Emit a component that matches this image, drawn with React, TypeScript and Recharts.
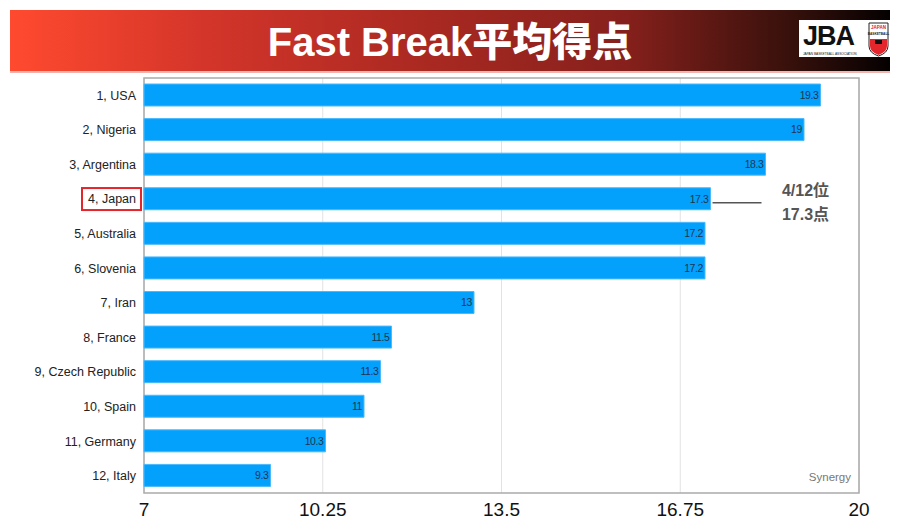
import React from 'react';
import { BarChart, Bar, XAxis, YAxis, CartesianGrid, ReferenceArea, LabelList } from 'recharts';

const categories = ['1, USA', '2, Nigeria', '3, Argentina', '4, Japan', '5, Australia', '6, Slovenia', '7, Iran', '8, France', '9, Czech Republic', '10, Spain', '11, Germany', '12, Italy'];
const values = [19.3, 19, 18.3, 17.3, 17.2, 17.2, 13, 11.5, 11.3, 11, 10.3, 9.3];
const xTicks = [7, 10.25, 13.5, 16.75, 20];
const highlight = '4, Japan';
const annotationLines = ['4/12位', '17.3点'];
const title = 'Fast Break平均得点';
const source = 'Synergy';

const data = categories.map((name, i) => ({ name, value: values[i] }));

const LABEL_FONT = '"Liberation Sans", Arial, sans-serif';

const YTick = (props: any) => {
  const { x, y, payload } = props;
  const isHi = payload.value === highlight;
  return (
    <g>
      {isHi && (
        <rect x={x - 54} y={y - 11} width={59} height={22} fill="none" stroke="#e3262b" strokeWidth={2} />
      )}
      <text x={x} y={y} dy="0.35em" textAnchor="end" fontSize={12.5} fill="#222" fontFamily={LABEL_FONT}>
        {payload.value}
      </text>
    </g>
  );
};

const ValueLabel = (props: any) => {
  const { x, y, width, height, value, index } = props;
  const endX = x + width;
  const cy = y + height / 2;
  const isHi = categories[index] === highlight;
  return (
    <g>
      <text x={endX - 2} y={cy} dy="0.36em" textAnchor="end" fontSize={10.5} fill="#1d3550" fontFamily={LABEL_FONT} letterSpacing={-0.4}>
        {value}
      </text>
      {isHi && (
        <g>
          <line x1={endX + 2} x2={endX + 51} y1={cy + 4} y2={cy + 4} stroke="#555" strokeWidth={1.5} />
          <text x={endX + 95} y={cy - 3} textAnchor="middle" fontSize={16} fontWeight={700} fill="#555" fontFamily='"Liberation Sans", "Noto Sans CJK JP", sans-serif'>
            {annotationLines[0]}
          </text>
          <text x={endX + 95} y={cy + 21} textAnchor="middle" fontSize={16} fontWeight={700} fill="#555" fontFamily='"Liberation Sans", "Noto Sans CJK JP", sans-serif'>
            {annotationLines[1]}
          </text>
        </g>
      )}
    </g>
  );
};

const Logo = () => (
  <svg width={91} height={37} style={{ position: 'absolute', left: 799, top: 20 }}>
    <rect x={0} y={0} width={91} height={37} fill="#fff" />
    <text x={4} y={25} fontSize={27} fontWeight={900} fill="#111" fontFamily='"Liberation Sans", Arial, sans-serif' letterSpacing={-1}>JBA</text>
    <text x={4} y={34.5} fontSize={3.2} fill="#111" fontFamily='"Liberation Sans", Arial, sans-serif'>JAPAN BASKETBALL ASSOCIATION</text>
    <path d="M70 3 H89 V26 Q89 33 79.5 36 Q70 33 70 26 Z" fill="#fff" stroke="#222" strokeWidth={1} />
    <text x={79.5} y={9} fontSize={4.5} fontWeight={700} textAnchor="middle" fill="#d8232a" fontFamily='"Liberation Sans", Arial, sans-serif'>JAPAN</text>
    <text x={79.5} y={14.5} fontSize={3.2} fontWeight={700} textAnchor="middle" fill="#222" fontFamily='"Liberation Sans", Arial, sans-serif'>BASKETBALL</text>
    <path d="M71 19 H88 V26 Q88 32 79.5 35 Q71 32 71 26 Z" fill="#e3262b" />
    <rect x={76} y={20} width={7} height={4} fill="#111" />
  </svg>
);

export default function App() {
  return (
    <div style={{ position: 'absolute', left: 0, top: 0, width: 897, height: 519, background: '#fff', overflow: 'hidden' }}>
      <div
        style={{
          position: 'absolute',
          left: 10,
          top: 10,
          width: 880,
          height: 61,
          background: 'linear-gradient(90deg, #ff4a2f 0%, #d4352a 22%, #ad2a22 45%, #86201c 70%, #3a110c 88%, #050101 100%)',
        }}
      />
      <div style={{ position: 'absolute', left: 10, top: 71, width: 880, height: 2, background: '#f1b4ae' }} />
      <div
        style={{
          position: 'absolute',
          left: 0,
          top: 12,
          width: 900,
          textAlign: 'center',
          color: '#fff',
          fontSize: 40,
          fontWeight: 700,
          fontFamily: '"Liberation Sans", "Noto Sans CJK JP", sans-serif',
          lineHeight: '54px',
          letterSpacing: 0,
        }}
      >
        <span style={{ fontFamily: '"Liberation Sans", Arial, sans-serif', fontWeight: 700 }}>Fast Break</span>
        <span style={{ fontFamily: '"Noto Sans CJK JP", sans-serif', fontWeight: 900 }}>平均得点</span>
      </div>
      <Logo />
      <div style={{ position: 'absolute', left: 0, top: 0 }}>
        <BarChart
          width={897}
          height={519}
          data={data}
          layout="vertical"
          margin={{ top: 78, right: 38, bottom: 0, left: 0 }}
          barSize={22}
        >
          <CartesianGrid horizontal={false} vertical={true} stroke="#e2e2e2" />
          <ReferenceArea x1={7} x2={20} fill="none" stroke="#aaaaaa" strokeWidth={1.5} ifOverflow="visible" />
          <XAxis
            type="number"
            domain={[7, 20]}
            ticks={xTicks}
            height={26}
            axisLine={false}
            tickLine={false}
            tickSize={0}
            tickMargin={10}
            interval={0}
            tick={{ fontSize: 19, fill: '#111', fontFamily: LABEL_FONT }}
          />
          <YAxis
            type="category"
            dataKey="name"
            width={144}
            axisLine={false}
            tickLine={false}
            tickSize={0}
            tickMargin={8}
            interval={0}
            tick={<YTick />}
          />
          <Bar dataKey="value" fill="#03a1fb" stroke="#4ab9ff" strokeWidth={1} isAnimationActive={false}>
            <LabelList dataKey="value" content={<ValueLabel />} />
          </Bar>
        </BarChart>
      </div>
      <div style={{ position: 'absolute', left: 790, top: 471, width: 61, textAlign: 'right', fontSize: 11.5, color: '#777', fontFamily: LABEL_FONT }}>
        {source}
      </div>
    </div>
  );
}
